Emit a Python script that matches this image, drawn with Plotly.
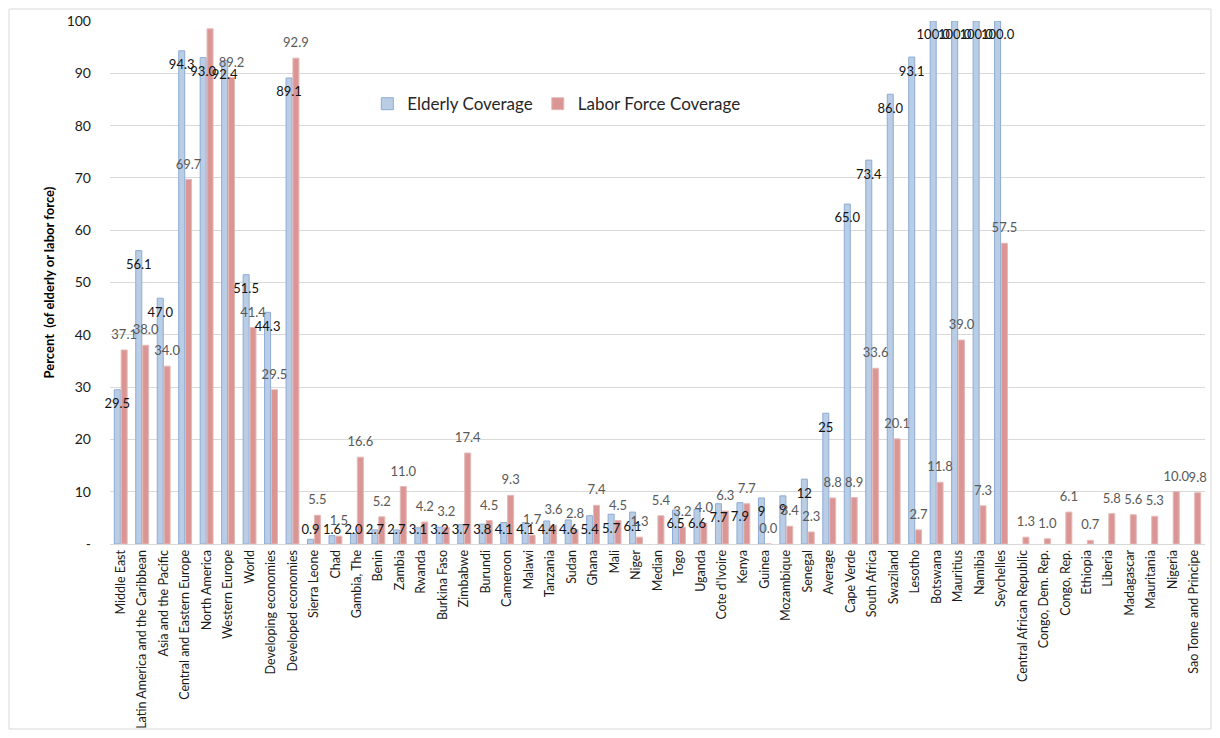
import plotly.graph_objects as go

categories = ["Middle East", "Latin America and the Caribbean", "Asia and the Pacific",
              "Central and Eastern Europe", "North America", "Western Europe", "World",
              "Developing economies", "Developed economies", "Sierra Leone", "Chad",
              "Gambia, The", "Benin", "Zambia", "Rwanda", "Burkina Faso", "Zimbabwe",
              "Burundi", "Cameroon", "Malawi", "Tanzania", "Sudan", "Ghana", "Mali", "Niger",
              "Median", "Togo", "Uganda", "Cote d'Ivoire", "Kenya", "Guinea", "Mozambique",
              "Senegal", "Average", "Cape Verde", "South Africa", "Swaziland", "Lesotho",
              "Botswana", "Mauritius", "Namibia", "Seychelles", "Central African Republic",
              "Congo, Dem. Rep.", "Congo, Rep.", "Ethiopia", "Liberia", "Madagascar",
              "Mauritania", "Nigeria", "Sao Tome and Principe"]

elderly = [29.5, 56.1, 47.0, 94.3, 93.0, 92.4, 51.5, 44.3, 89.1,
           0.9, 1.6, 2.0, 2.7, 2.7, 3.1, 3.2, 3.7, 3.8, 4.1, 4.1, 4.4, 4.6, 5.4, 5.7, 6.1,
           None,
           6.5, 6.6, 7.7, 7.9, 8.8, 9.2, 12.4, 25.0,
           65.0, 73.4, 86.0, 93.1, 100.0, 100.0, 100.0, 100.0,
           None, None, None, None, None, None, None, None, None]

labor = [37.1, 38.0, 34.0, 69.7, 98.5, 89.2, 41.4, 29.5, 92.9,
         5.5, 1.5, 16.6, 5.2, 11.0, 4.2, 3.2, 17.4, 4.5, 9.3, 1.7, 3.6, 2.8, 7.4, 4.5, 1.3,
         5.4,
         3.2, 4.0, 6.3, 7.7, 0.0, 3.4, 2.3, 8.8,
         8.9, 33.6, 20.1, 2.7, 11.8, 39.0, 7.3, 57.5,
         1.3, 1.0, 6.1, 0.7, 5.8, 5.6, 5.3, 10.0, 9.8]

whole_number_labels = {"Guinea", "Mozambique", "Senegal", "Average"}

y_ticks = [0, 10, 20, 30, 40, 50, 60, 70, 80, 90, 100]
y_ticktext = ["-", "10", "20", "30", "40", "50", "60", "70", "80", "90", "100"]

FONT = "Lato"
xs = list(range(len(categories)))
BW = 0.28
OFF = 0.16

W, H = 1204, 722
ML, MR, MT, MB = 102, 7, 13, 186
PW = W - ML - MR
PH = H - MT - MB

fig = go.Figure()
fig.add_trace(go.Bar(
    x=xs, y=elderly, name="Elderly Coverage", width=BW, offset=-OFF - BW / 2,
    marker=dict(color="#b9cde5", line=dict(color="#8eabd4", width=1)),
))
fig.add_trace(go.Bar(
    x=xs, y=labor, name="Labor Force Coverage", width=BW, offset=OFF - BW / 2,
    marker=dict(color="#d99694", line=dict(color="#e6b9b8", width=1)),
))

# Elderly labels (inside end, clamped above baseline)
ex, ey, et = [], [], []
for i, (c, v) in enumerate(zip(categories, elderly)):
    if v is None:
        continue
    ex.append(i - OFF)
    ey.append(max(v - 2.9, 2.5))
    et.append(f"{v:.0f}" if c in whole_number_labels else f"{v:.1f}")
fig.add_trace(go.Scatter(
    x=ex, y=ey, text=et, mode="text", textposition="middle center",
    textfont=dict(family=FONT, size=13, color="#111111"),
    showlegend=False, hoverinfo="skip", cliponaxis=False,
))

# Labor labels (outside end)
lx, ly, lt = [], [], []
for i, v in enumerate(labor):
    lx.append(i + OFF)
    ly.append(v + 2.7)
    lt.append(f"{v:.1f}")
fig.add_trace(go.Scatter(
    x=lx, y=ly, text=lt, mode="text", textposition="middle center",
    textfont=dict(family=FONT, size=13, color="#595959"),
    showlegend=False, hoverinfo="skip", cliponaxis=False,
))

fig.update_layout(
    width=W, height=H,
    margin=dict(l=ML, r=MR, t=MT, b=MB, autoexpand=False),
    paper_bgcolor="white", plot_bgcolor="white",
    barmode="overlay",
    font=dict(family=FONT, size=13, color="#262626"),
    showlegend=True,
    legend=dict(orientation="h", x=0.235, y=0.841, xanchor="left", yanchor="middle",
                font=dict(family=FONT, size=17, color="#262626"),
                bgcolor="rgba(0,0,0,0)", itemwidth=30),
    xaxis=dict(
        range=[-0.5, len(categories) - 0.5],
        tickvals=xs, ticktext=categories, tickangle=-90,
        tickfont=dict(family=FONT, size=12.5, color="#1a1a1a"),
        showgrid=False, showline=True, linecolor="#d9d9d9", linewidth=1,
        ticks="", zeroline=False, fixedrange=True,
    ),
    yaxis=dict(
        range=[0, 100], tickvals=y_ticks, ticktext=y_ticktext,
        tickfont=dict(family=FONT, size=14, color="#1a1a1a"),
        showgrid=True, gridcolor="#d9d9d9", gridwidth=1,
        zeroline=False, showline=False, ticks="", ticklabelstandoff=18,
    ),
    annotations=[dict(
        text="<b>Percent  (of elderly or labor force)</b>", textangle=-90,
        xref="paper", yref="paper", x=-(ML - 40) / PW, y=0.5,
        xanchor="center", yanchor="middle", showarrow=False,
        font=dict(family=FONT, size=13, color="#000000"),
    )],
    shapes=[dict(
        type="rect", xref="paper", yref="paper",
        x0=-(ML - 1) / PW, x1=1 + (MR - 1) / PW,
        y0=-(MB - 1) / PH, y1=1 + (MT - 1) / PH,
        line=dict(color="#d9d9d9", width=1), fillcolor="rgba(0,0,0,0)", layer="below",
    )],
)

fig.write_html("out.html")
